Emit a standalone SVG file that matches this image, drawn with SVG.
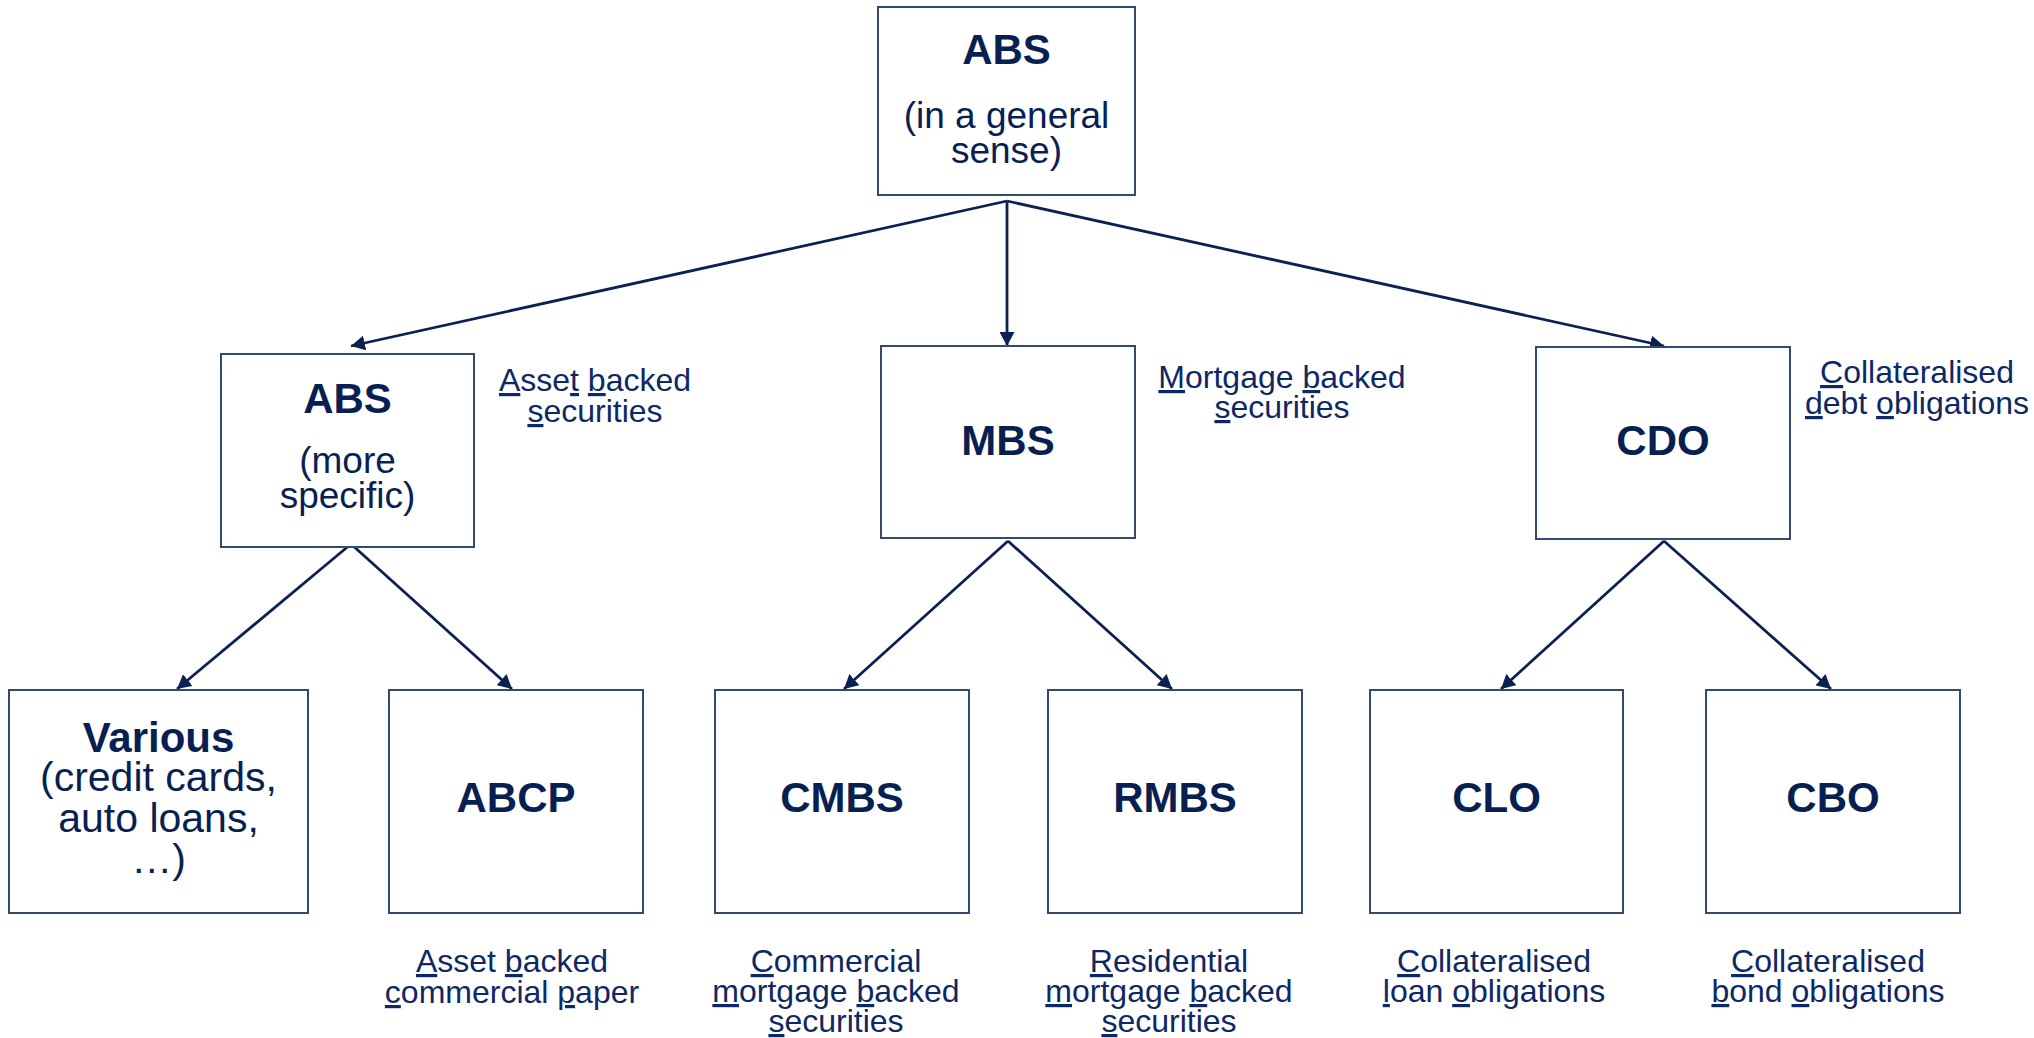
<svg xmlns="http://www.w3.org/2000/svg" width="2034" height="1038" viewBox="0 0 2034 1038">
  <style>
    .box { fill: #ffffff; stroke: #34496f; stroke-width: 2; }
    .t { font-family: "Liberation Sans", Arial, sans-serif; fill: #081f52; text-anchor: middle; }
    .title { font-size: 42px; font-weight: bold; }
    .sub { font-size: 37px; }
    .big { font-size: 41px; }
    .lbl { font-family: "Liberation Sans", Arial, sans-serif; fill: #0d2864; text-anchor: middle; font-size: 32px; }
    .u { text-decoration: underline; }
    .conn { stroke: #0b2152; stroke-width: 2.8; fill: none; }
  </style>
  <defs>
    <marker id="arrow" markerUnits="userSpaceOnUse" viewBox="0 0 14 15" refX="14" refY="7.5" markerWidth="14" markerHeight="15" orient="auto">
      <path d="M0,0 L14,7.5 L0,15 z" fill="#0b2152"/>
    </marker>
  </defs>

  <rect width="2034" height="1038" fill="#ffffff"/>

  <!-- connectors -->
  <g id="connectors">
    <line class="conn" x1="1007" y1="201" x2="351" y2="346" marker-end="url(#arrow)"/>
    <line class="conn" x1="1007" y1="201" x2="1007" y2="346" marker-end="url(#arrow)"/>
    <line class="conn" x1="1007" y1="201" x2="1664" y2="346" marker-end="url(#arrow)"/>
    <line class="conn" x1="351" y1="544" x2="177" y2="689" marker-end="url(#arrow)"/>
    <line class="conn" x1="351" y1="544" x2="512" y2="689" marker-end="url(#arrow)"/>
    <line class="conn" x1="1008" y1="541" x2="844" y2="689" marker-end="url(#arrow)"/>
    <line class="conn" x1="1008" y1="541" x2="1172" y2="689" marker-end="url(#arrow)"/>
    <line class="conn" x1="1664" y1="541" x2="1501" y2="689" marker-end="url(#arrow)"/>
    <line class="conn" x1="1664" y1="541" x2="1831" y2="689" marker-end="url(#arrow)"/>
  </g>

  <!-- top: ABS in a general sense -->
  <g id="abs-general">
    <rect class="box" x="878" y="7" width="257" height="188"/>
    <text class="t title" x="1006.5" y="64">ABS</text>
    <text class="t sub" x="1006.5" y="128">(in a general</text>
    <text class="t sub" x="1006.5" y="163">sense)</text>
  </g>

  <!-- middle row -->
  <g id="abs-specific">
    <rect class="box" x="221" y="354" width="253" height="193"/>
    <text class="t title" x="347.5" y="413">ABS</text>
    <text class="t sub" x="347.5" y="473">(more</text>
    <text class="t sub" x="347.5" y="508">specific)</text>
  </g>
  <g id="abs-specific-label">
    <text class="lbl" x="595" y="391"><tspan class="u">A</tspan>sse<tspan class="u">t</tspan> <tspan class="u">b</tspan>acked</text>
    <text class="lbl" x="595" y="422"><tspan class="u">s</tspan>ecurities</text>
  </g>

  <g id="mbs">
    <rect class="box" x="881" y="346" width="254" height="192"/>
    <text class="t title" x="1008" y="455">MBS</text>
  </g>
  <g id="mbs-label">
    <text class="lbl" x="1282" y="388"><tspan class="u">M</tspan>ortgage <tspan class="u">b</tspan>acked</text>
    <text class="lbl" x="1282" y="418"><tspan class="u">s</tspan>ecurities</text>
  </g>

  <g id="cdo">
    <rect class="box" x="1536" y="347" width="254" height="192"/>
    <text class="t title" x="1663" y="455">CDO</text>
  </g>
  <g id="cdo-label">
    <text class="lbl" x="1917" y="383"><tspan class="u">C</tspan>ollateralised</text>
    <text class="lbl" x="1917" y="414"><tspan class="u">d</tspan>ebt <tspan class="u">o</tspan>bligations</text>
  </g>

  <!-- bottom row -->
  <g id="various">
    <rect class="box" x="9" y="690" width="299" height="223"/>
    <text class="t title" x="158.5" y="752">Various</text>
    <text class="t big" x="158.5" y="791">(credit cards,</text>
    <text class="t big" x="158.5" y="832">auto loans,</text>
    <text class="t big" x="158.5" y="873">…)</text>
  </g>

  <g id="abcp">
    <rect class="box" x="389" y="690" width="254" height="223"/>
    <text class="t title" x="516" y="812">ABCP</text>
  </g>
  <g id="abcp-label">
    <text class="lbl" x="512" y="972"><tspan class="u">A</tspan>sset <tspan class="u">b</tspan>acked</text>
    <text class="lbl" x="512" y="1003"><tspan class="u">c</tspan>ommercial <tspan class="u">p</tspan>aper</text>
  </g>

  <g id="cmbs">
    <rect class="box" x="715" y="690" width="254" height="223"/>
    <text class="t title" x="842" y="812">CMBS</text>
  </g>
  <g id="cmbs-label">
    <text class="lbl" x="836" y="972"><tspan class="u">C</tspan>ommercial</text>
    <text class="lbl" x="836" y="1002"><tspan class="u">m</tspan>ortgage <tspan class="u">b</tspan>acked</text>
    <text class="lbl" x="836" y="1032"><tspan class="u">s</tspan>ecurities</text>
  </g>

  <g id="rmbs">
    <rect class="box" x="1048" y="690" width="254" height="223"/>
    <text class="t title" x="1175" y="812">RMBS</text>
  </g>
  <g id="rmbs-label">
    <text class="lbl" x="1169" y="972"><tspan class="u">R</tspan>esidential</text>
    <text class="lbl" x="1169" y="1002"><tspan class="u">m</tspan>ortgage <tspan class="u">b</tspan>acked</text>
    <text class="lbl" x="1169" y="1032"><tspan class="u">s</tspan>ecurities</text>
  </g>

  <g id="clo">
    <rect class="box" x="1370" y="690" width="253" height="223"/>
    <text class="t title" x="1496.5" y="812">CLO</text>
  </g>
  <g id="clo-label">
    <text class="lbl" x="1494" y="972"><tspan class="u">C</tspan>ollateralised</text>
    <text class="lbl" x="1494" y="1002"><tspan class="u">l</tspan>oan <tspan class="u">o</tspan>bligations</text>
  </g>

  <g id="cbo">
    <rect class="box" x="1706" y="690" width="254" height="223"/>
    <text class="t title" x="1833" y="812">CBO</text>
  </g>
  <g id="cbo-label">
    <text class="lbl" x="1828" y="972"><tspan class="u">C</tspan>ollateralised</text>
    <text class="lbl" x="1828" y="1002"><tspan class="u">b</tspan>ond <tspan class="u">o</tspan>bligations</text>
  </g>
</svg>
